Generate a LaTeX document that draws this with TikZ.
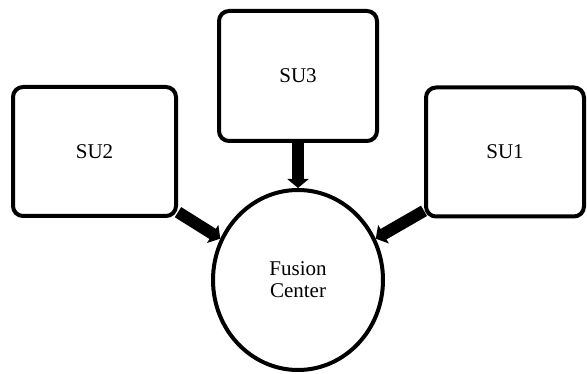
\documentclass[tikz,border=0pt]{standalone}
\usepackage{fontspec}
\setmainfont{Liberation Serif}
\usetikzlibrary{arrows.meta,shapes.geometric}
\tikzset{
        su/.style={draw=black, line width=4pt, rounded corners=10pt, minimum width=158pt, minimum height=129pt, inner sep=0pt, font=\fontsize{21}{22}\selectfont},
        fusion/.style={ellipse, draw=black, line width=4pt, minimum width=170pt, minimum height=180pt, inner sep=0pt, align=center, font=\fontsize{21}{22}\selectfont},
        link/.style={line width=12pt, -{Triangle[width=21pt,length=9pt]}}
          }
\begin{document}
\begin{tikzpicture}
        [x=1pt, y=-1pt]
        \useasboundingbox (0,0) rectangle (587,374);
        \node[su, minimum width=163pt] (su2) at (94.5,151.5) {SU2};
        \node[su, minimum height=130pt] (su3) at (298,76) {SU3};
        \node[su] (su1) at (505,152) {SU1};
        \node[fusion] (fc) at (298,280) {Fusion\\Center};
        \draw[link] (su2.-36) -- (fc.152);
        \draw[link] (su3.south) -- (fc.north);
        \draw[link] (su1.216) -- (fc.28);
      \end{tikzpicture}
\end{document}
